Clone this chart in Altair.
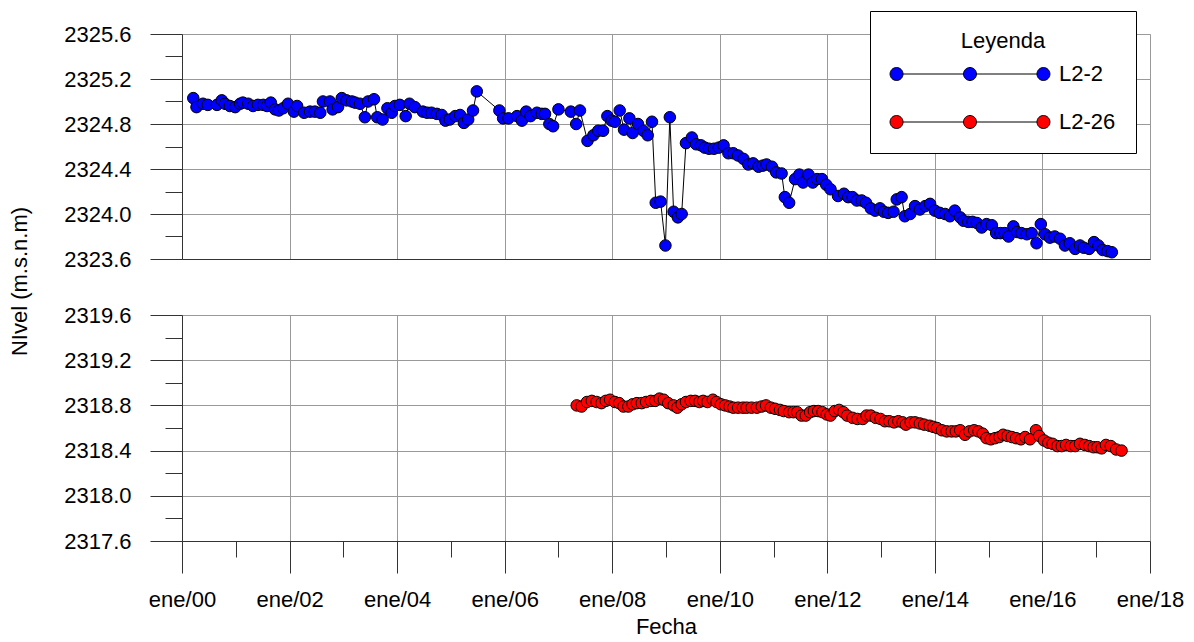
import altair as alt
import pandas as pd

SERIES = ["L2-2", "L2-26"]
COLORS = ["#0000ff", "#ff0000"]

# L2-2 (decimal year, level m.s.n.m)
BLUE_T = [
    2000.21, 2000.27, 2000.39, 2000.48, 2000.65, 2000.74, 2000.80, 2000.89, 2000.99, 2001.08,
    2001.13, 2001.23, 2001.32, 2001.41, 2001.51, 2001.58, 2001.65, 2001.73, 2001.80, 2001.88,
    2001.97, 2002.08, 2002.14, 2002.27, 2002.38, 2002.47, 2002.57, 2002.62, 2002.75, 2002.80,
    2002.90, 2002.97, 2003.06, 2003.16, 2003.22, 2003.31, 2003.40, 2003.46, 2003.57, 2003.63,
    2003.73, 2003.82, 2003.90, 2003.96, 2004.05, 2004.16, 2004.23, 2004.33, 2004.48, 2004.56,
    2004.64, 2004.74, 2004.83, 2004.90, 2004.98, 2005.08, 2005.17, 2005.24, 2005.32, 2005.41,
    2005.48, 2005.90, 2005.97, 2006.07, 2006.23, 2006.32, 2006.40, 2006.48, 2006.60, 2006.69,
    2006.75, 2006.83, 2006.90, 2007.00, 2007.23, 2007.33, 2007.40, 2007.54, 2007.65, 2007.74,
    2007.83, 2007.91, 2007.99, 2008.05, 2008.14, 2008.22, 2008.32, 2008.38, 2008.48, 2008.58,
    2008.66, 2008.74, 2008.81, 2008.90, 2008.99, 2009.07, 2009.14, 2009.22, 2009.29, 2009.37,
    2009.48, 2009.56, 2009.65, 2009.72, 2009.80, 2009.89, 2009.98, 2010.07, 2010.16, 2010.25,
    2010.34, 2010.44, 2010.53, 2010.62, 2010.72, 2010.80, 2010.87, 2010.97, 2011.05, 2011.15,
    2011.21, 2011.29, 2011.40, 2011.48, 2011.55, 2011.65, 2011.73, 2011.81, 2011.90, 2011.98,
    2012.06, 2012.20, 2012.31, 2012.39, 2012.47, 2012.55, 2012.64, 2012.72, 2012.81, 2012.89,
    2012.98, 2013.05, 2013.13, 2013.23, 2013.29, 2013.38, 2013.44, 2013.54, 2013.63, 2013.72,
    2013.82, 2013.91, 2014.00, 2014.09, 2014.19, 2014.28, 2014.37, 2014.47, 2014.53, 2014.62,
    2014.70, 2014.78, 2014.87, 2014.96, 2015.06, 2015.14, 2015.22, 2015.30, 2015.37, 2015.46,
    2015.53, 2015.61, 2015.71, 2015.80, 2015.89, 2015.97, 2016.05, 2016.14, 2016.23, 2016.33,
    2016.42, 2016.51, 2016.61, 2016.70, 2016.77, 2016.87, 2016.96, 2017.04, 2017.12, 2017.21,
    2017.29,
]
BLUE_V = [
    2325.03, 2324.95, 2324.98, 2324.97, 2324.97, 2325.01, 2324.98, 2324.96, 2324.95, 2324.98,
    2324.99, 2324.98, 2324.96, 2324.97, 2324.97, 2324.96, 2324.99, 2324.93, 2324.92, 2324.94,
    2324.98, 2324.91, 2324.96, 2324.90, 2324.91, 2324.91, 2324.90, 2325.00, 2325.00, 2324.93,
    2324.95, 2325.03, 2325.01, 2325.00, 2324.99, 2324.98, 2324.86, 2325.00, 2325.02, 2324.86,
    2324.84, 2324.94, 2324.90, 2324.96, 2324.97, 2324.87, 2324.98, 2324.95, 2324.91, 2324.90,
    2324.90, 2324.89, 2324.88, 2324.83, 2324.84, 2324.87, 2324.88, 2324.81, 2324.84, 2324.92,
    2325.09, 2324.92, 2324.85, 2324.85, 2324.87, 2324.83, 2324.91, 2324.87, 2324.90, 2324.89,
    2324.89, 2324.80, 2324.78, 2324.93, 2324.91, 2324.80, 2324.92, 2324.65, 2324.70, 2324.74,
    2324.74, 2324.87, 2324.83, 2324.82, 2324.92, 2324.75, 2324.85, 2324.72, 2324.80, 2324.74,
    2324.70, 2324.82, 2324.10, 2324.11, 2323.72, 2324.86, 2324.02, 2323.97, 2324.00, 2324.63,
    2324.68, 2324.62, 2324.61, 2324.59, 2324.58, 2324.58, 2324.59, 2324.61, 2324.54, 2324.54,
    2324.52, 2324.49, 2324.44, 2324.45, 2324.42, 2324.43, 2324.44, 2324.42, 2324.37, 2324.36,
    2324.15, 2324.10, 2324.31, 2324.35, 2324.28, 2324.35, 2324.28, 2324.31, 2324.31, 2324.26,
    2324.22, 2324.16, 2324.18, 2324.15, 2324.15, 2324.12, 2324.12, 2324.10, 2324.05, 2324.03,
    2324.05, 2324.02, 2324.01, 2324.02, 2324.13, 2324.15, 2323.98, 2324.00, 2324.07, 2324.04,
    2324.07, 2324.09, 2324.03, 2324.01, 2324.00, 2323.98, 2324.03, 2323.97, 2323.94, 2323.93,
    2323.93, 2323.92, 2323.88, 2323.91, 2323.90, 2323.83, 2323.83, 2323.83, 2323.80, 2323.89,
    2323.84, 2323.83, 2323.82, 2323.83, 2323.74, 2323.91, 2323.82, 2323.79, 2323.80, 2323.78,
    2323.72, 2323.74, 2323.69, 2323.72, 2323.70, 2323.69, 2323.75, 2323.72, 2323.68, 2323.67,
    2323.66,
]

# L2-26 (decimal year, level m.s.n.m)
RED_T = [
    2007.34, 2007.43, 2007.53, 2007.62, 2007.71, 2007.80, 2007.88, 2007.96, 2008.05, 2008.13,
    2008.21, 2008.30, 2008.38, 2008.46, 2008.55, 2008.63, 2008.72, 2008.80, 2008.88, 2008.96,
    2009.04, 2009.14, 2009.21, 2009.29, 2009.37, 2009.46, 2009.54, 2009.62, 2009.69, 2009.77,
    2009.87, 2009.94, 2010.02, 2010.10, 2010.18, 2010.25, 2010.34, 2010.43, 2010.50, 2010.59,
    2010.69, 2010.78, 2010.86, 2010.95, 2011.03, 2011.12, 2011.19, 2011.29, 2011.37, 2011.44,
    2011.52, 2011.60, 2011.68, 2011.75, 2011.83, 2011.91, 2011.99, 2012.06, 2012.14, 2012.22,
    2012.30, 2012.37, 2012.47, 2012.56, 2012.66, 2012.73, 2012.81, 2012.90, 2012.99, 2013.07,
    2013.15, 2013.24, 2013.32, 2013.40, 2013.46, 2013.55, 2013.63, 2013.72, 2013.80, 2013.90,
    2013.97, 2014.04, 2014.13, 2014.22, 2014.31, 2014.39, 2014.47, 2014.56, 2014.64, 2014.73,
    2014.81, 2014.89, 2014.96, 2015.04, 2015.12, 2015.20, 2015.27, 2015.35, 2015.43, 2015.51,
    2015.60, 2015.68, 2015.77, 2015.88, 2015.94, 2016.03, 2016.11, 2016.19, 2016.28, 2016.36,
    2016.44, 2016.53, 2016.61, 2016.70, 2016.79, 2016.87, 2016.95, 2017.02, 2017.10, 2017.18,
    2017.27, 2017.37, 2017.47,
]
RED_V = [
    2318.80, 2318.79, 2318.83, 2318.84, 2318.83, 2318.82, 2318.84, 2318.85, 2318.83, 2318.82,
    2318.79, 2318.79, 2318.81, 2318.82, 2318.82, 2318.83, 2318.84, 2318.84, 2318.86, 2318.85,
    2318.82, 2318.80, 2318.78, 2318.81, 2318.83, 2318.84, 2318.84, 2318.83, 2318.84, 2318.83,
    2318.85, 2318.83, 2318.81, 2318.80, 2318.79, 2318.78, 2318.78, 2318.78, 2318.78, 2318.78,
    2318.78, 2318.79, 2318.80, 2318.78, 2318.77, 2318.76, 2318.75, 2318.74, 2318.74, 2318.74,
    2318.71, 2318.71, 2318.74, 2318.75, 2318.75, 2318.74, 2318.72, 2318.71, 2318.75, 2318.76,
    2318.74, 2318.71, 2318.69, 2318.68, 2318.68, 2318.71, 2318.71, 2318.69, 2318.68, 2318.66,
    2318.66, 2318.65, 2318.66, 2318.65, 2318.63, 2318.65, 2318.65, 2318.64, 2318.63, 2318.62,
    2318.61, 2318.60, 2318.58, 2318.57, 2318.57, 2318.57, 2318.58, 2318.54, 2318.57, 2318.58,
    2318.57, 2318.55, 2318.51, 2318.50, 2318.51, 2318.52, 2318.54, 2318.53, 2318.52, 2318.51,
    2318.50, 2318.52, 2318.50, 2318.58, 2318.53, 2318.49, 2318.47, 2318.46, 2318.44, 2318.44,
    2318.45, 2318.44, 2318.44, 2318.46, 2318.45, 2318.44, 2318.43, 2318.43, 2318.42, 2318.45,
    2318.44, 2318.41, 2318.40,
]

TOP_TICKS = [2323.6, 2324.0, 2324.4, 2324.8, 2325.2, 2325.6]
TOP_MINOR = [2323.8, 2324.2, 2324.6, 2325.0, 2325.4]
BOT_TICKS = [2317.6, 2318.0, 2318.4, 2318.8, 2319.2, 2319.6]
BOT_MINOR = [2317.8, 2318.2, 2318.6, 2319.0, 2319.4]
MAJOR_YEARS = list(range(2000, 2019, 2))
MINOR_YEARS = list(range(2001, 2018, 2))

FONT = "Liberation Sans"
FS = 22


def to_date(t):
    y = int(t)
    return pd.Timestamp(year=y, month=1, day=1) + pd.Timedelta(days=(t - y) * 365.25)


blue = pd.DataFrame({"fecha": [to_date(t) for t in BLUE_T], "nivel": BLUE_V, "serie": SERIES[0]})
red = pd.DataFrame({"fecha": [to_date(t) for t in RED_T], "nivel": RED_V, "serie": SERIES[1]})

x_scale = alt.Scale(
    domain=[alt.DateTime(year=2000, month=1, date=1), alt.DateTime(year=2018, month=1, date=1)],
    nice=False,
)
major_dt = [alt.DateTime(year=y, month=1, date=1) for y in MAJOR_YEARS]
minor_dt = [alt.DateTime(year=y, month=1, date=1) for y in MINOR_YEARS]
color_scale = alt.Scale(domain=SERIES, range=COLORS)

# legend symbol: three circles joined by a line
A = 11.3
parts = [f"M {-A + 1} 0 L -1 0 M 1 0 L {A - 1} 0"]
for c in (-A, 0.0, A):
    parts.append(f"M {c + 1} 0 A 1 1 0 1 1 {c - 1} 0 A 1 1 0 1 1 {c + 1} 0 Z")
SYMBOL = " ".join(parts)

legend = alt.Legend(
    title="Leyenda", orient="none", legendX=688, legendY=-23, direction="vertical",
    symbolType=SYMBOL, symbolSize=169, symbolStrokeColor="black", symbolStrokeWidth=1,
    symbolOffset=69, symbolOpacity=1, labelOffset=78,
    labelFont=FONT, labelFontSize=FS, labelColor="black",
    titleFont=FONT, titleFontSize=FS, titleFontWeight="normal", titleColor="black",
    titleAnchor="middle", titleAlign="center", titlePadding=10,
    padding=20, strokeColor="black", fillColor="white", rowPadding=26,
)


def panel(df, ydom, major, minor, top):
    y_scale = alt.Scale(domain=ydom, nice=False, zero=False)
    if top:
        x_major = alt.Axis(values=major_dt, grid=True, labels=False, ticks=False, domain=True,
                           title=None, orient="bottom")
        x_minor = None
        y_major = alt.Axis(values=major, format=".1f", grid=True, tickSize=32, labelPadding=19,
                           orient="left", title="NIvel (m.s.n.m)", titleX=-163, titleY=247,
                           titleAngle=270, titleAlign="center", titleBaseline="middle",
                           labelFlush=False, labelOverlap=False)
    else:
        x_major = alt.Axis(values=major_dt, grid=True, labels=True, ticks=True, tickSize=32,
                           labelPadding=16, labelExpr="'ene/' + timeFormat(datum.value, '%y')",
                           labelFlush=False, labelOverlap=False, title="Fecha", titlePadding=6,
                           orient="bottom")
        x_minor = alt.Axis(values=minor_dt, grid=False, labels=False, ticks=True, tickSize=16,
                           domain=False, title=None, orient="bottom")
        y_major = alt.Axis(values=major, format=".1f", grid=True, tickSize=32, labelPadding=19,
                           orient="left", title=None, labelFlush=False, labelOverlap=False)
    y_minor = alt.Axis(values=minor, grid=False, labels=False, ticks=True, tickSize=17,
                       domain=False, title=None, orient="left")

    line = alt.Chart(df).mark_line(color="black", strokeWidth=1).encode(
        x=alt.X("fecha:T", scale=x_scale, axis=x_major),
        y=alt.Y("nivel:Q", scale=y_scale, axis=y_major),
    )
    pts = alt.Chart(df).mark_circle(size=133, stroke="black", strokeWidth=1, opacity=1).encode(
        x=alt.X("fecha:T", scale=x_scale, axis=x_minor),
        y=alt.Y("nivel:Q", scale=y_scale, axis=y_minor),
        color=alt.Color("serie:N", scale=color_scale, legend=legend if top else None),
    )
    return (
        alt.layer(line, pts)
        .resolve_axis(x="independent", y="independent")
        .properties(width=968, height=225 if top else 226)
    )


top = panel(blue, [2323.6, 2325.6], TOP_TICKS, TOP_MINOR, True)
bottom = panel(red, [2317.6, 2319.6], BOT_TICKS, BOT_MINOR, False)

chart = (
    alt.vconcat(top, bottom, spacing=56, bounds="flush")
    .properties(padding={"left": 0, "top": 2, "right": 0, "bottom": 0})
    .configure_view(stroke=None)
    .configure_axis(
        labelFont=FONT, labelFontSize=FS, labelColor="black",
        titleFont=FONT, titleFontSize=FS, titleColor="black", titleFontWeight="normal",
        gridColor="#999999", gridWidth=1, tickColor="#333333", tickWidth=1,
        domainColor="#333333", domainWidth=1,
    )
)

chart.save("out.html", embed_options={"renderer": "svg", "actions": False})
